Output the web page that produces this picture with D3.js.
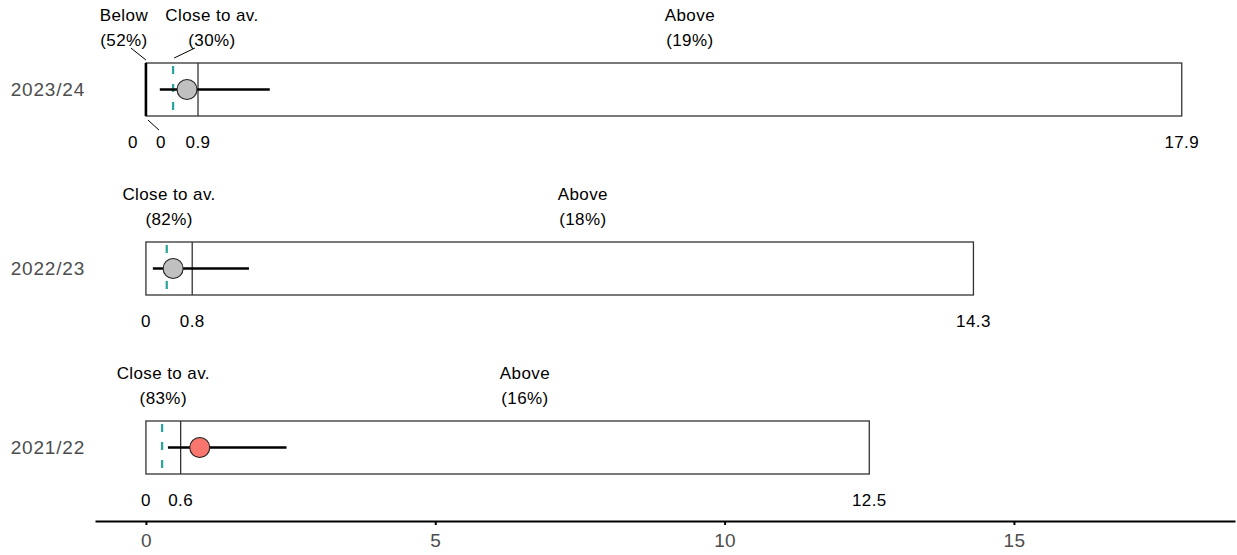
<!DOCTYPE html>
<html><head><meta charset="utf-8">
<script src="https://cdn.jsdelivr.net/npm/d3@7"></script>
<style>
body{margin:0;background:#fff;}
text{font-family:"Liberation Sans",Arial,sans-serif;}
</style></head>
<body><svg id="chart" width="1237" height="555"></svg>
<script>
// ---- data ----
const years      = ["2023/24", "2022/23", "2021/22"];
const lowerBound = [0, 0, 0];          // upper limit of "Below"
const closeUpper = [0.9, 0.8, 0.6];    // upper limit of "Close to av."
const maxValue   = [17.9, 14.3, 12.5];
const estimate   = [0.71, 0.47, 0.93];
const ciLow      = [0.24, 0.12, 0.38];
const ciHigh     = [2.14, 1.78, 2.43];
const average    = [0.47, 0.36, 0.28];
const belowPct   = [52, null, null];
const closePct   = [30, 82, 83];
const abovePct   = [19, 18, 16];
const axisTicks  = [0, 5, 10, 15];

const rows = years.map((y, i) => ({
  year: y, low: lowerBound[i], close: closeUpper[i], max: maxValue[i],
  est: estimate[i], lo: ciLow[i], hi: ciHigh[i], avg: average[i],
  below: belowPct[i], closeP: closePct[i], above: abovePct[i]
}));

const svg = d3.select("#chart");
const x = d3.scaleLinear().domain([-0.88, 18.82]).range([95, 1235]);
const y = d3.scalePoint().domain(years).range([89.5, 447.5]);
const boxH = 53;
const FS = 17, LS = 0.4;

// axis
const ax = svg.append("g").attr("transform", "translate(0,521)")
  .call(d3.axisBottom(x).tickValues(axisTicks).tickSize(4).tickSizeOuter(0).tickPadding(9));
ax.select(".domain").attr("stroke", "#000").attr("stroke-width", 2);
ax.selectAll(".tick line").attr("stroke", "#000").attr("stroke-width", 2);
ax.selectAll(".tick text").attr("fill", "#4d4d4d").attr("font-size", 19)
  .attr("letter-spacing", 0.4).attr("font-family", "Liberation Sans, Arial, sans-serif");

// y labels
svg.append("g").selectAll("text").data(rows).join("text")
  .attr("x", 85).attr("y", d => y(d.year)).attr("dy", "0.35em")
  .attr("text-anchor", "end").attr("fill", "#4d4d4d").attr("font-size", 19)
  .attr("letter-spacing", 0.8)
  .text(d => d.year);

const g = svg.append("g").selectAll("g").data(rows).join("g")
  .attr("transform", d => `translate(0,${y(d.year)})`);

// boxes
g.append("rect")
  .attr("x", d => x(d.low)).attr("y", -boxH / 2)
  .attr("width", d => x(d.max) - x(d.low)).attr("height", boxH)
  .attr("fill", "#fff").attr("stroke", "#333").attr("stroke-width", 1.3);
// below-region edge (thick when below label present)
g.filter(d => d.below != null).append("line")
  .attr("x1", d => x(d.low)).attr("x2", d => x(d.low))
  .attr("y1", -boxH / 2).attr("y2", boxH / 2)
  .attr("stroke", "#000").attr("stroke-width", 2.6);
// close-to-average upper limit
g.append("line")
  .attr("x1", d => x(d.close)).attr("x2", d => x(d.close))
  .attr("y1", -boxH / 2).attr("y2", boxH / 2)
  .attr("stroke", "#333").attr("stroke-width", 1.3);
// average dashed line
g.append("line")
  .attr("x1", d => x(d.avg)).attr("x2", d => x(d.avg))
  .attr("y1", -boxH / 2 + 3).attr("y2", boxH / 2 - 2)
  .attr("stroke", "#26a69a").attr("stroke-width", 2.2)
  .attr("stroke-dasharray", "8,10");
// whisker
g.append("line")
  .attr("x1", d => x(d.lo)).attr("x2", d => x(d.hi))
  .attr("y1", 0).attr("y2", 0)
  .attr("stroke", "#000").attr("stroke-width", 2.3);
// estimate point
g.append("circle")
  .attr("cx", d => x(d.est)).attr("cy", 0).attr("r", 10)
  .attr("fill", d => d.est > d.close ? "#f8766d" : "#c0c0c0")
  .attr("stroke", "#222").attr("stroke-width", 1.1);

// region labels
const labTop = -boxH / 2 - 48, labBot = -boxH / 2 - 23;
function txt(sel, fx, fy, t) {
  sel.append("text").attr("x", fx).attr("y", fy).attr("dy", "0.35em")
    .attr("text-anchor", "middle").attr("font-size", FS).attr("letter-spacing", LS)
    .attr("fill", "#000").text(t);
}
function regionLabel(sel, fx, title, val) {
  txt(sel, fx, labTop, title);
  txt(sel, fx, labBot, val);
}
g.each(function (d) {
  const s = d3.select(this);
  const hasBelow = d.below != null;
  const closeMid = x((d.low + d.close) / 2);
  const aboveMid = x((d.close + d.max) / 2);
  if (hasBelow) {
    const bx = x(d.low) - 22;
    regionLabel(s, bx, "Below", `(${d.below}%)`);
    s.append("line").attr("x1", bx + 7).attr("y1", labBot + 8)
      .attr("x2", x(d.low)).attr("y2", -boxH / 2 - 3).attr("stroke", "#000").attr("stroke-width", 1);
    const cx = closeMid + 40;
    regionLabel(s, cx, "Close to av.", `(${d.closeP}%)`);
    s.append("line").attr("x1", cx - 17).attr("y1", labBot + 8)
      .attr("x2", x(d.avg) + 1).attr("y2", -boxH / 2 - 5).attr("stroke", "#000").attr("stroke-width", 1);
  } else {
    regionLabel(s, closeMid, "Close to av.", `(${d.closeP}%)`);
  }
  regionLabel(s, aboveMid, "Above", `(${d.above}%)`);

  // value labels under box
  const vy = boxH / 2 + 26;
  const vals = [];
  if (hasBelow) {
    vals.push({ v: d.low, dx: -13 });
    vals.push({ v: d.low, dx: 15 });
    s.append("line").attr("x1", x(d.low) + 2).attr("y1", boxH / 2 + 4)
      .attr("x2", x(d.low) + 13).attr("y2", boxH / 2 + 14).attr("stroke", "#000").attr("stroke-width", 1);
  } else {
    vals.push({ v: d.low, dx: 0 });
  }
  vals.push({ v: d.close, dx: 0 });
  vals.push({ v: d.max, dx: 0 });
  vals.forEach(e => txt(s, x(e.v) + e.dx, vy, d3.format("")(e.v)));
});
</script></body></html>
